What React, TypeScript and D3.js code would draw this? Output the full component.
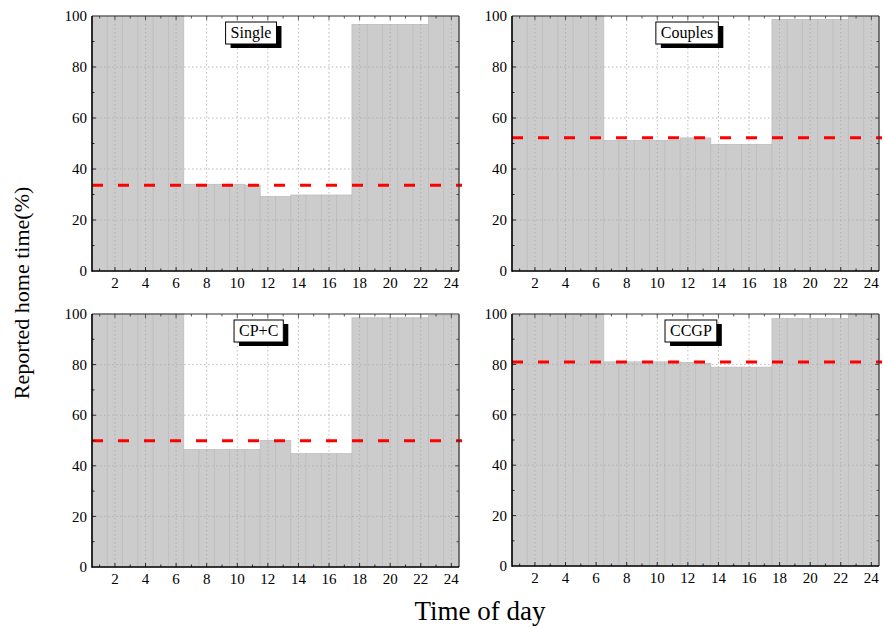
import React, { useEffect, useRef } from "react";
import * as d3 from "d3";

const hours = [1, 2, 3, 4, 5, 6, 7, 8, 9, 10, 11, 12, 13, 14, 15, 16, 17, 18, 19, 20, 21, 22, 23, 24];
const xTicks = [2, 4, 6, 8, 10, 12, 14, 16, 18, 20, 22, 24];
const yTicks = [0, 20, 40, 60, 80, 100];
const gridY = [20, 40, 60, 80];

const panelNames = ["Single", "Couples", "CP+C", "CCGP"];
const single = [100, 100, 100, 100, 100, 100, 34, 34, 34, 34, 33.6, 29.2, 29.2, 29.8, 29.8, 29.8, 29.8, 96.7, 96.7, 96.7, 96.7, 96.7, 100, 100];
const couples = [100, 100, 100, 100, 100, 100, 51.2, 51.2, 51.2, 51.2, 51.2, 52.2, 52.2, 49.6, 49.6, 49.6, 49.6, 98.6, 98.6, 98.6, 98.6, 98.6, 100, 100];
const cpc = [100, 100, 100, 100, 100, 100, 46.4, 46.4, 46.4, 46.4, 46.4, 50.0, 50.0, 44.8, 44.8, 44.8, 44.8, 98.5, 98.5, 98.5, 98.5, 98.5, 99.5, 99.5];
const ccgp = [100, 100, 100, 100, 100, 100, 81.0, 81.0, 81.0, 81.0, 81.0, 80.8, 80.4, 78.9, 78.9, 78.9, 78.9, 98.2, 98.2, 98.2, 98.2, 98.2, 100, 100];
const means = [33.6, 52.3, 49.9, 81.0];
const labelHours = [10.9, 11.95, 11.4, 12.2];

const seriesList = [single, couples, cpc, ccgp];

export default function App() {
  const ref = useRef<SVGSVGElement>(null);
  useEffect(() => {
    const svg = d3.select(ref.current);
    svg.selectAll("*").remove();
    const font = "'Liberation Serif', 'Times New Roman', serif";
    const frames = [
      { x0: 92, x1: 459, y0: 16, y1: 271 },
      { x0: 512, x1: 879, y0: 16, y1: 271 },
      { x0: 92, x1: 459, y0: 314, y1: 567 },
      { x0: 512, x1: 879, y0: 314, y1: 566 },
    ];
    frames.forEach((f, i) => {
      const vals = seriesList[i];
      const x = d3.scaleLinear().domain([0.5, 24.5]).range([f.x0, f.x1]);
      const y = d3.scaleLinear().domain([0, 100]).range([f.y1, f.y0]);
      const g = svg.append("g");
      // bars
      g.selectAll("rect.bar")
        .data(hours)
        .enter()
        .append("rect")
        .attr("x", (h) => x(h - 0.5))
        .attr("width", (h) => x(h + 0.5) - x(h - 0.5))
        .attr("y", (h, k) => y(vals[k]))
        .attr("height", (h, k) => y(0) - y(vals[k]))
        .attr("fill", "#cccccc")
        .attr("stroke", "#bdbdbd")
        .attr("stroke-width", 0.8);
      // grid
      xTicks.forEach((t) => {
        g.append("line")
          .attr("x1", x(t)).attr("x2", x(t))
          .attr("y1", f.y0).attr("y2", f.y1)
          .attr("stroke", "#aaaaaa").attr("stroke-width", 0.8)
          .attr("stroke-dasharray", "1.5,2.5");
      });
      gridY.forEach((t) => {
        g.append("line")
          .attr("x1", f.x0).attr("x2", f.x1)
          .attr("y1", y(t)).attr("y2", y(t))
          .attr("stroke", "#aaaaaa").attr("stroke-width", 0.8)
          .attr("stroke-dasharray", "1.5,2.5");
      });
      // mean line
      g.append("line")
        .attr("x1", f.x0).attr("x2", f.x1 + 3)
        .attr("y1", y(means[i])).attr("y2", y(means[i]))
        .attr("stroke", "#ff0000").attr("stroke-width", 3)
        .attr("stroke-dasharray", "11,15");
      // frame
      g.append("line").attr("x1", f.x0).attr("x2", f.x1).attr("y1", f.y0).attr("y2", f.y0).attr("stroke", "#333").attr("stroke-width", 1.2);
      g.append("line").attr("x1", f.x1).attr("x2", f.x1).attr("y1", f.y0).attr("y2", f.y1).attr("stroke", "#333").attr("stroke-width", 1.2);
      g.append("line").attr("x1", f.x0).attr("x2", f.x0).attr("y1", f.y0).attr("y2", f.y1 + 0.75).attr("stroke", "#000").attr("stroke-width", 1.6);
      g.append("line").attr("x1", f.x0).attr("x2", f.x1).attr("y1", f.y1).attr("y2", f.y1).attr("stroke", "#000").attr("stroke-width", 1.6);
      // ticks x
      hours.forEach((h) => {
        const len = h % 2 === 0 ? 4 : 2.5;
        g.append("line").attr("x1", x(h)).attr("x2", x(h)).attr("y1", f.y1).attr("y2", f.y1 - len).attr("stroke", "#000").attr("stroke-width", 0.8);
        g.append("line").attr("x1", x(h)).attr("x2", x(h)).attr("y1", f.y0).attr("y2", f.y0 + len).attr("stroke", "#333").attr("stroke-width", 0.8);
      });
      for (let v = 10; v < 100; v += 10) {
        const len = v % 20 === 0 ? 4 : 2.5;
        g.append("line").attr("x1", f.x0).attr("x2", f.x0 + len).attr("y1", y(v)).attr("y2", y(v)).attr("stroke", "#000").attr("stroke-width", 0.8);
        g.append("line").attr("x1", f.x1).attr("x2", f.x1 - len).attr("y1", y(v)).attr("y2", y(v)).attr("stroke", "#333").attr("stroke-width", 0.8);
      }
      // tick labels
      xTicks.forEach((t) => {
        g.append("text").attr("x", x(t)).attr("y", f.y1 + 17)
          .attr("text-anchor", "middle").attr("font-family", font).attr("font-size", 15)
          .attr("fill", "#000").text(String(t));
      });
      yTicks.forEach((t) => {
        g.append("text").attr("x", f.x0 - 5).attr("y", y(t)).attr("dy", "0.35em")
          .attr("text-anchor", "end").attr("font-family", font).attr("font-size", 15)
          .attr("fill", "#000").text(String(t));
      });
      // label box
      const cx = x(labelHours[i]);
      const lg = g.append("g");
      const shadow = lg.append("rect").attr("fill", "#000");
      const box = lg.append("rect").attr("fill", "#fff").attr("stroke", "#000").attr("stroke-width", 1);
      const txt = lg.append("text").attr("x", cx).attr("y", f.y0 + 22)
        .attr("text-anchor", "middle").attr("font-family", font).attr("font-size", 16)
        .attr("fill", "#000").text(panelNames[i]);
      const w = (txt.node() as SVGTextElement).getComputedTextLength() + 10;
      const bx = cx - w / 2;
      const by = f.y0 + 6;
      const bh = 22;
      shadow.attr("x", bx + 5).attr("y", by + 4).attr("width", w).attr("height", bh);
      box.attr("x", bx).attr("y", by).attr("width", w).attr("height", bh);
    });
    svg.append("text")
      .attr("transform", "translate(29,293) rotate(-90)")
      .attr("text-anchor", "middle").attr("font-family", font).attr("font-size", 22)
      .attr("fill", "#000").text("Reported home time(%)");
    svg.append("text")
      .attr("x", 480).attr("y", 620)
      .attr("text-anchor", "middle").attr("font-family", font).attr("font-size", 27)
      .attr("fill", "#000").text("Time of day");
  }, []);
  return (
    <svg ref={ref} width={884} height={628} style={{ position: "absolute", left: 0, top: 0, background: "#fff" }} />
  );
}
